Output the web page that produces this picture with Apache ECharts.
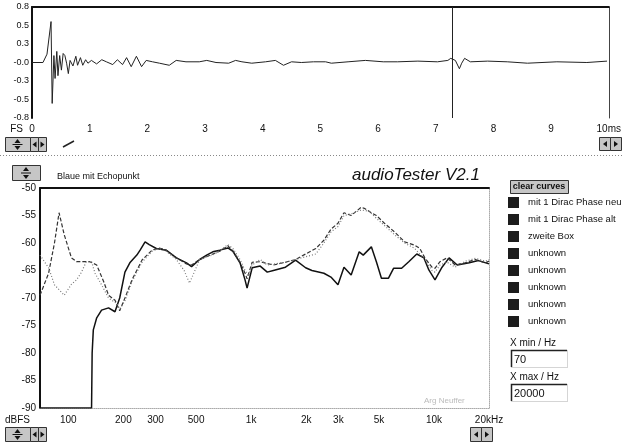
<!DOCTYPE html>
<html><head><meta charset="utf-8">
<script src="https://cdn.jsdelivr.net/npm/echarts@6/dist/echarts.min.js"></script>
<style>html,body{margin:0;padding:0;background:#fff}#c{width:624px;height:443px}</style>
</head><body><div id="c"></div>
<script>
// ---- impulse response (top) ----
const impulseTime = [0,0.19,0.26,0.33,0.35,0.38,0.40,0.43,0.45,0.48,0.51,0.54,0.57,0.60,0.63,0.66,0.71,0.76,0.79,0.84,0.88,0.93,0.97,1.03,1.12,1.21,1.29,1.40,1.48,1.57,1.64,1.72,1.81,1.90,1.98,2.09,2.21,2.38,2.50,2.67,2.90,3.03,3.19,3.41,3.53,3.64,3.81,4.05,4.22,4.36,4.50,4.67,4.88,5.09,5.19,5.48,5.78,6.09,6.34,6.69,7.03,7.21,7.26,7.34,7.41,7.45,7.50,7.60,7.90,8.24,8.59,9.10,9.62,9.97];
const impulseAmp = [0,0,0.12,0.59,-0.59,0.10,-0.23,0.16,-0.19,0.10,-0.11,0.13,0.10,-0.01,-0.16,0.03,-0.05,0.09,-0.04,0.07,-0.04,0.04,-0.01,0.03,-0.02,0.04,0.01,-0.03,0.04,-0.03,0.07,-0.06,0.09,-0.06,0.03,0.01,-0.01,-0.04,0.03,0.01,0.01,0.03,0,-0.01,0.03,0.01,-0.01,0.01,0.03,-0.04,0.01,0,0.01,0.01,-0.01,0.01,0.03,0.01,0.01,0.02,0.01,0.03,0.06,0.03,-0.09,-0.01,0.06,0.01,0.02,0.01,-0.01,0.01,0,0.02];
const cursorTime = 7.28;
const topYTicks = [-0.8, -0.5333, -0.2667, 0, 0.2667, 0.5333, 0.8];
const topYLabels = ['-0.8', '-0.5', '-0.3', '-0.0', '0.3', '0.5', '0.8'];

// ---- frequency responses (bottom) ----
const freqTicks = [100, 200, 300, 500, 1000, 2000, 3000, 5000, 10000, 20000];
const freqLabels = ['100', '200', '300', '500', '1k', '2k', '3k', '5k', '10k', '20kHz'];
const seriesNames = ['mit 1 Dirac Phase neu', 'mit 1 Dirac Phase alt', 'zweite Box'];
const unknownNames = ['unknown#1', 'unknown#2', 'unknown#3', 'unknown#4', 'unknown#5'];

const freqA = [70,134,135,137,143,152,166,180,191,204,217,237,247,263,277,303,343,390,443,472,523,571,617,674,746,795,869,926,950,1013,1121,1225,1323,1541,1750,1986,2150,2500,2731,2985,3220,3524,3900,4103,4545,4842,5160,5640,6010,6653,7280,8054,8813,9376,10130,11070,12100,13400,15600,17500,20000];
const dbA = [-90,-90,-80,-75.8,-73.6,-72.2,-71.8,-72.5,-70,-65.3,-63.6,-62.2,-61.3,-59.8,-60.3,-61,-61.3,-62.7,-63.6,-64.3,-63,-62.2,-61.6,-61.3,-60.9,-61.5,-63.6,-66.7,-68.2,-64.5,-64.2,-65.3,-65,-64.4,-63.1,-64.5,-65,-65.5,-66.2,-67.6,-64.4,-65.8,-61.6,-62.2,-60.7,-63.4,-66.4,-66.4,-64.6,-64.6,-63.4,-62,-62.7,-64.9,-66.7,-64.4,-62.7,-64,-63.6,-63.2,-63.8];

const freqB = [70,78,84,89,95,104,111,131,143,156,166,180,191,204,223,253,287,314,343,390,443,472,523,571,617,674,746,795,869,926,950,1013,1121,1323,1541,1750,1986,2258,2500,2731,2985,3220,3524,4000,4157,4545,4842,5357,6090,6918,7852,8375,8918,9750,10130,10790,11800,13060,14830,16850,19140,20000];
const dbB = [-69.5,-65.5,-60,-54.5,-58.5,-62.7,-63.4,-63.4,-64,-67,-69.5,-70.4,-72.3,-70,-66.7,-63.1,-61.3,-60.9,-61.3,-62.7,-63.8,-64,-63,-62.5,-62,-61.5,-60.5,-61.5,-63.5,-65.5,-66.5,-63.5,-63.4,-64,-63.5,-63,-62,-61,-59.5,-57.5,-56.4,-54.5,-55,-53.5,-53.7,-54.5,-55,-56.4,-58,-59.8,-60.4,-61,-62.7,-64.4,-64.6,-63.4,-62.7,-64,-63.6,-63,-63.6,-63.3];

const freqC = [70,78,84,95,104,111,118,125,134,140,152,166,184,191,204,223,253,287,314,343,390,430,460,500,523,571,617,700,746,795,869,926,970,1013,1121,1225,1541,1750,1986,2258,2500,2731,2985,3220,3524,4000,4400,4842,5357,6090,6918,7852,8918,9750,10130,10790,11800,13060,14830,16850,19140,20000];
const dbC = [-62.2,-64.5,-67.6,-69.5,-67.5,-66.7,-65.3,-63.5,-63.4,-65.5,-67.6,-70,-71,-72,-70.5,-67,-63.5,-61.5,-61,-61.5,-63,-65,-67.3,-64.5,-63,-62.5,-62.2,-61,-60.3,-61,-63,-65,-66,-64,-63,-64,-63.5,-63,-62.5,-62,-60,-58,-57,-55,-54.7,-54,-54.2,-55.5,-56.8,-58.5,-60,-61,-63,-65,-65.3,-64,-63.5,-64.4,-63.3,-62.8,-63.3,-63];

const zip = (a, b) => a.map((v, i) => [v, b[i]]);
const FONT = 'Liberation Sans';
const TXT = '#111';

// ---- UI decoration helpers ----
function box(x, y, w, h, fill) {
  return { type: 'rect', shape: { x: x + 0.5, y: y + 0.5, width: w, height: h },
    style: { fill: fill || '#c6c6c6', stroke: '#333', lineWidth: 1 }, silent: true };
}
function tri(cx, cy, dir) {
  const p = { l: [[cx + 2, cy - 3], [cx + 2, cy + 3], [cx - 2, cy]],
              r: [[cx - 2, cy - 3], [cx - 2, cy + 3], [cx + 2, cy]],
              u: [[cx - 3, cy + 2], [cx + 3, cy + 2], [cx, cy - 2]],
              d: [[cx - 3, cy - 2], [cx + 3, cy - 2], [cx, cy + 2]] }[dir];
  return { type: 'polygon', shape: { points: p }, style: { fill: '#111' }, silent: true };
}
function spinner(x, y, w, h) {
  const cx = x + w / 2;
  return [box(x, y, w, h), tri(cx, y + 4, 'u'), tri(cx, y + h - 3, 'd'),
    { type: 'line', shape: { x1: cx - 5, y1: y + h / 2 + 0.5, x2: cx + 5, y2: y + h / 2 + 0.5 }, style: { stroke: '#111' }, silent: true }];
}
function arrows(x, y, w, h) {
  return [box(x, y, w, h), tri(x + w / 2 + 0.5, y + h / 2 + 0.5, 'l'),
          box(x + w, y, w, h), tri(x + w * 1.5 + 0.5, y + h / 2 + 0.5, 'r')];
}
function txt(x, y, s, size, extra) {
  return { type: 'text', x: x, y: y, silent: true,
    style: Object.assign({ text: s, fontSize: size, fontFamily: FONT, fill: TXT, verticalAlign: 'middle', align: 'left' }, extra || {}) };
}
function inputBox(x, y, w, h, val) {
  return [
    { type: 'rect', shape: { x: x + 0.5, y: y + 0.5, width: w, height: h }, style: { fill: '#fff', stroke: '#aaa', lineDash: [1, 1] }, silent: true },
    { type: 'polyline', shape: { points: [[x + 0.5, y + h], [x + 0.5, y + 0.5], [x + w, y + 0.5]] }, style: { stroke: '#222', lineWidth: 1.5, fill: null }, silent: true },
    txt(x + 3, y + h / 2 + 1, val, 11)
  ];
}

const graphics = [].concat(
  [{ type: 'line', shape: { x1: 0, y1: 155.5, x2: 624, y2: 155.5 }, style: { stroke: '#888', lineDash: [1, 2] }, silent: true }],
  [{ type: 'line', shape: { x1: 63, y1: 147, x2: 74, y2: 141 }, style: { stroke: '#222', lineWidth: 1.5 }, silent: true }],
  spinner(5, 137, 25, 14), arrows(30, 137, 8, 14),
  arrows(599, 137, 11, 13),
  spinner(12, 165, 28, 15),
  spinner(5, 427, 25, 14), arrows(30, 427, 8, 14),
  arrows(470, 427, 11, 14),
  [box(510, 180, 58, 13), txt(539, 187, 'clear curves', 9, { align: 'center', fontWeight: 'bold' })],
  [txt(510, 343, 'X min / Hz', 10)], inputBox(511, 350, 56, 17, '70'),
  [txt(510, 377, 'X max / Hz', 10)], inputBox(511, 384, 56, 17, '20000'),
  [txt(424, 401, 'Arg Neuffer', 8, { fill: '#bbb' })]
);

const chart = echarts.init(document.getElementById('c'), null, { renderer: 'canvas' });
const lineAxis = (w, c, t) => ({ show: true, onZero: false, lineStyle: { color: c, width: w, type: t || 'solid' } });
const noAxisDeco = { axisTick: { show: false }, splitLine: { show: false } };

chart.setOption({
  animation: false,
  backgroundColor: '#fff',
  title: [
    { text: 'audioTester V2.1', left: 347, top: 162, textStyle: { fontSize: 17, fontStyle: 'italic', fontWeight: 'normal', fontFamily: FONT, color: TXT } },
    { text: 'Blaue mit Echopunkt', left: 52, top: 167, textStyle: { fontSize: 9, fontWeight: 'normal', fontFamily: FONT, color: TXT } }
  ],
  legend: {
    orient: 'vertical', left: 503, top: 192, itemWidth: 11, itemHeight: 11, itemGap: 6, icon: 'rect',
    data: seriesNames.concat(unknownNames),
    formatter: n => n.replace(/#\d+$/, ''),
    itemStyle: { color: '#1c1c1c' },
    textStyle: { fontSize: 9.5, fontFamily: FONT, color: TXT, padding: [0, 0, 0, 4] },
    selectedMode: false
  },
  grid: [
    { left: 32, top: 7, width: 579, height: 111, containLabel: false },
    { left: 40, top: 188, width: 449, height: 220, containLabel: false }
  ],
  xAxis: [
    Object.assign({ gridIndex: 0, type: 'value', min: 0, max: 10, interval: 1, position: 'bottom',
      axisLine: { show: false, onZero: false },
      axisLabel: { margin: 6, fontSize: 10, fontFamily: FONT, color: TXT, formatter: v => v === 10 ? '10ms' : String(v) } }, noAxisDeco),
    Object.assign({ gridIndex: 0, type: 'value', min: 0, max: 1, position: 'top',
      axisLine: lineAxis(2, '#111'), axisLabel: { show: false } }, noAxisDeco),
    Object.assign({ gridIndex: 1, type: 'log', logBase: 10, min: 70, max: 20000, position: 'bottom',
      axisLine: lineAxis(1, '#aaa', 'dotted'), axisLabel: { show: false } }, noAxisDeco),
    Object.assign({ gridIndex: 1, type: 'value', min: Math.log10(70), max: Math.log10(20000), position: 'bottom',
      axisLine: { show: false, onZero: false },
      axisLabel: { margin: 7, fontSize: 10, fontFamily: FONT, color: TXT, customValues: freqTicks.map(f => Math.log10(f)),
        formatter: v => { const i = freqTicks.findIndex(f => Math.abs(Math.log10(f) - v) < 1e-6); return i >= 0 ? freqLabels[i] : ''; } } }, noAxisDeco),
    Object.assign({ gridIndex: 1, type: 'value', min: 0, max: 1, position: 'top',
      axisLine: lineAxis(2, '#111'), axisLabel: { show: false } }, noAxisDeco)
  ],
  yAxis: [
    Object.assign({ gridIndex: 0, type: 'value', min: -0.8, max: 0.8, position: 'left',
      axisLine: lineAxis(2, '#111'),
      name: 'FS', nameLocation: 'start', nameGap: 11,
      nameTextStyle: { fontSize: 10, fontFamily: FONT, color: TXT, align: 'right', verticalAlign: 'middle', padding: [0, 9, 0, 0] },
      axisLabel: { margin: 3, fontSize: 9, fontFamily: FONT, color: TXT, customValues: topYTicks,
        formatter: v => { const i = topYTicks.findIndex(t => Math.abs(t - v) < 1e-3); return i >= 0 ? topYLabels[i] : ''; } } }, noAxisDeco),
    Object.assign({ gridIndex: 0, type: 'value', min: 0, max: 1, position: 'right',
      axisLine: lineAxis(1, '#444'), axisLabel: { show: false } }, noAxisDeco),
    Object.assign({ gridIndex: 1, type: 'value', min: -90, max: -50, interval: 5, position: 'left',
      axisLine: lineAxis(2, '#111'),
      name: 'dBFS', nameLocation: 'start', nameGap: 12,
      nameTextStyle: { fontSize: 10, fontFamily: FONT, color: TXT, align: 'right', verticalAlign: 'middle', padding: [0, 10, 0, 0] },
      axisLabel: { margin: 4, fontSize: 10, fontFamily: FONT, color: TXT } }, noAxisDeco),
    Object.assign({ gridIndex: 1, type: 'value', min: 0, max: 1, position: 'right',
      axisLine: lineAxis(1, '#aaa', 'dotted'), axisLabel: { show: false } }, noAxisDeco)
  ],
  series: [
    { name: 'impulse', type: 'line', xAxisIndex: 0, yAxisIndex: 0, showSymbol: false, symbol: 'none',
      data: zip(impulseTime, impulseAmp), lineStyle: { color: '#222', width: 1 },
      markLine: { silent: true, symbol: 'none', label: { show: false }, lineStyle: { color: '#222', width: 1, type: 'solid' },
        data: [{ xAxis: cursorTime }] } },
    { name: seriesNames[0], type: 'line', xAxisIndex: 2, yAxisIndex: 2, showSymbol: false, symbol: 'none',
      data: zip(freqA, dbA), itemStyle: { color: '#111' }, lineStyle: { color: '#111', width: 1.5 } },
    { name: seriesNames[1], type: 'line', xAxisIndex: 2, yAxisIndex: 2, showSymbol: false, symbol: 'none',
      data: zip(freqB, dbB), itemStyle: { color: '#333' }, lineStyle: { color: '#333', width: 1.2, type: [4, 2] } },
    { name: seriesNames[2], type: 'line', xAxisIndex: 2, yAxisIndex: 2, showSymbol: false, symbol: 'none',
      data: zip(freqC, dbC), itemStyle: { color: '#777' }, lineStyle: { color: '#777', width: 1.2, type: [1, 2] } }
  ].concat(unknownNames.map(n => ({ name: n, type: 'line', xAxisIndex: 2, yAxisIndex: 2, data: [], itemStyle: { color: '#1c1c1c' } }))),
  graphic: graphics
});
</script></body></html>
